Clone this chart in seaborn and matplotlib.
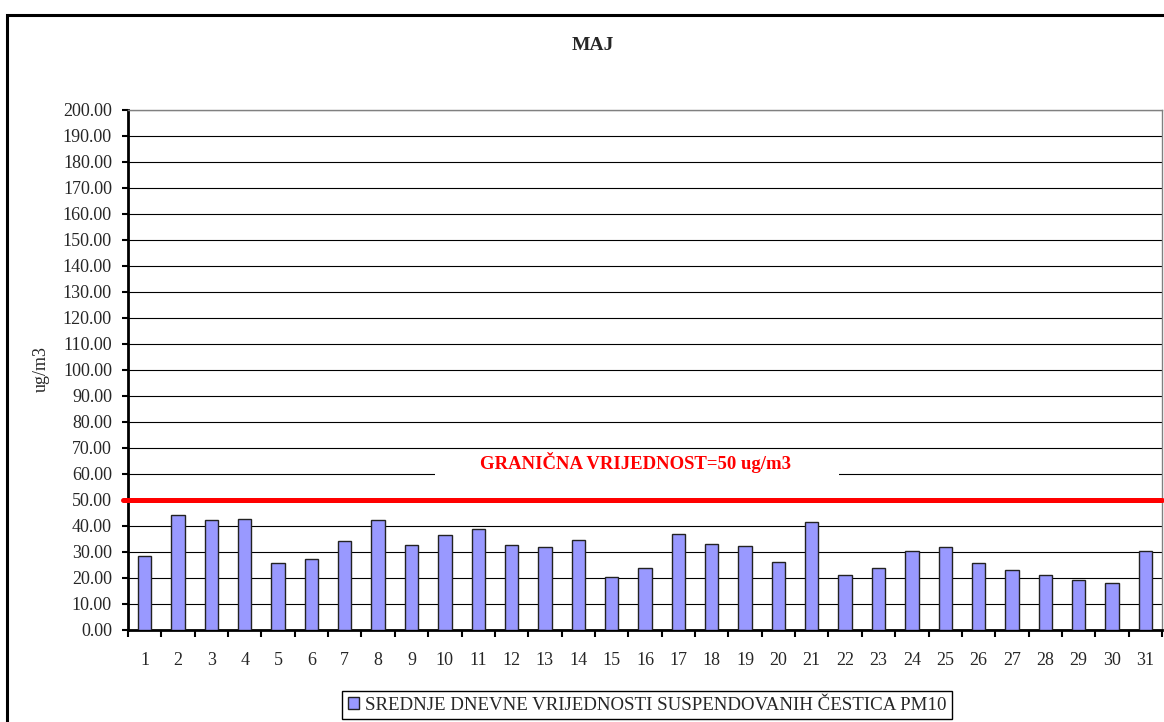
import matplotlib
matplotlib.use('Agg')
import matplotlib.pyplot as plt
import seaborn as sns
import pandas as pd
from matplotlib.patches import Rectangle
from matplotlib.ticker import FormatStrFormatter, MultipleLocator, FixedLocator

# Podaci - srednje dnevne vrijednosti PM10, maj
dani = list(range(1, 32))
pm10 = [28.6, 44.3, 42.2, 42.6, 25.8, 27.3, 34.2, 42.2, 32.8, 36.5,
        38.8, 32.8, 31.8, 34.7, 20.4, 24.0, 36.9, 33.2, 32.3, 26.3,
        41.7, 21.2, 24.0, 30.5, 31.8, 25.8, 23.1, 21.2, 19.4, 17.9,
        30.5]
granica = 50
naslov = 'MAJ'
jedinica = 'ug/m3'
tekst_granica = 'GRANIČNA VRIJEDNOST=50 ug/m3'
legenda = 'SREDNJE DNEVNE VRIJEDNOSTI SUSPENDOVANIH ČESTICA PM10'

sns.set_style('white')
plt.rcParams['font.family'] = ['Liberation Serif', 'DejaVu Serif']

W, H = 1164, 722
fig = plt.figure(figsize=(W / 100, H / 100), dpi=100)
ax = fig.add_axes([128 / W, 92 / H, 1034 / W, 520 / H])

df = pd.DataFrame({'dan': [str(d) for d in dani], 'pm10': pm10})
sns.barplot(data=df, x='dan', y='pm10', color='#9999FF', saturation=1,
            width=0.4, edgecolor='#222222', linewidth=1, errorbar=None,
            label=legenda, ax=ax, zorder=3)

ax.set_xlim(-0.5, len(dani) - 0.5)
ax.set_ylim(0, 200)
ax.yaxis.set_major_locator(MultipleLocator(10))
ax.yaxis.set_major_formatter(FormatStrFormatter('%.2f'))
ax.grid(axis='y', color='black', linewidth=0.8)
ax.set_axisbelow(True)
ax.set_xlabel('')
ax.set_ylabel('')

for s in ['left', 'bottom']:
    ax.spines[s].set_color('black')
    ax.spines[s].set_linewidth(2)
for s in ['top', 'right']:
    ax.spines[s].set_color('#808080')
    ax.spines[s].set_linewidth(1)

# tickovi izmedju kategorija (kao u Excelu)
ax.xaxis.set_minor_locator(FixedLocator([i - 0.5 for i in range(len(dani) + 1)]))
ax.tick_params(axis='x', which='major', bottom=True, length=0, pad=16,
               labelsize=13)
ax.tick_params(axis='x', which='minor', bottom=True, length=5, width=1.5,
               direction='out', color='black')
ax.tick_params(axis='y', left=True, length=4.5, width=1.5, direction='out',
               pad=7, labelsize=13, color='black')

# granicna vrijednost
ax.axhline(granica, color='#FF0000', lw=3.6, xmin=-0.005, xmax=1.0,
           clip_on=False, zorder=5)
ax.add_patch(Rectangle(((435 - 128) / 1034, 0.275), (839 - 435) / 1034, 0.065,
                       transform=ax.transAxes, facecolor='white',
                       edgecolor='none', zorder=2))
ax.text((636 - 128) / 1034, 64.6, tekst_granica, transform=ax.get_yaxis_transform(),
        ha='center', va='center', color='#FF0000', fontsize=13.5,
        fontweight='bold', zorder=6)

fig.text(593 / W, 1 - 46 / H, naslov, ha='center', va='center',
         fontsize=14, fontweight='bold')
fig.text(41 / W, 1 - 369 / H, jedinica, rotation=90, ha='center',
         va='center', fontsize=13)

leg = ax.legend(loc='center', bbox_to_anchor=(647 / W, 1 - 705 / H),
                bbox_transform=fig.transFigure, frameon=True, fancybox=False,
                edgecolor='black', framealpha=1, fontsize=13.6,
                handlelength=0.6, handleheight=0.6, handletextpad=0.3,
                borderpad=0.3, borderaxespad=0)
leg.get_frame().set_linewidth(1)

# okvir grafikona
fig.add_artist(Rectangle((7 / W, -0.1), 1.2, 1.1 - 15 / H,
                         transform=fig.transFigure, fill=False,
                         edgecolor='black', lw=2.2))

fig.savefig('out.png', dpi=100)
